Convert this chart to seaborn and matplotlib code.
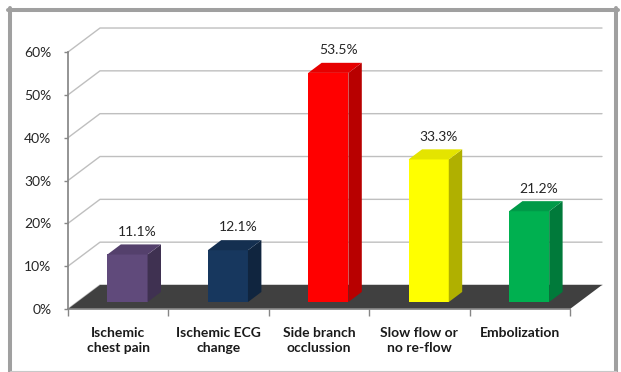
import matplotlib
matplotlib.use("Agg")
import matplotlib.pyplot as plt
import seaborn as sns
import pandas as pd
from matplotlib.patches import Polygon
from matplotlib.lines import Line2D

# ---- data ----
categories = ["Ischemic\nchest pain", "Ischemic ECG\nchange", "Side branch\nocclussion",
              "Slow flow or\nno re-flow", "Embolization"]
values = [11.1, 12.1, 53.5, 33.3, 21.2]
value_labels = ["11.1%", "12.1%", "53.5%", "33.3%", "21.2%"]
yticks = [0, 10, 20, 30, 40, 50, 60]
ytick_labels = ["0%", "10%", "20%", "30%", "40%", "50%", "60%"]
front_colors = ["#604A7B", "#17375E", "#FF0000", "#FFFF00", "#00B050"]
side_colors = ["#3F3151", "#10253F", "#B80000", "#B0B000", "#007A3A"]
top_colors = ["#54406C", "#142F50", "#E60000", "#E4E400", "#009A48"]

# ---- layout (pixels) ----
W, H, DPI = 621, 372, 100
AX_L, AX_R, AX_B, AX_T = 68, 603, 309, 28
PX_CAT = 100.4          # pixels per category
PX_PCT = 4.283          # pixels per percent
DX = 32 / PX_CAT        # depth offset in data units (x)
DY = 24 / PX_PCT        # depth offset in data units (y)
D_FRONT, D_BACK = 0.29, 0.71
BAR_W = 0.4

sns.set_theme(style="white")
plt.rcParams["font.family"] = ["Lato", "DejaVu Sans"]

fig = plt.figure(figsize=(W / DPI, H / DPI), dpi=DPI)
ax = fig.add_axes([AX_L / W, (H - AX_B) / H, (AX_R - AX_L) / W, (AX_B - AX_T) / H])
n = len(categories)

# back wall gridlines + side wall diagonals
for v in yticks:
    ax.plot([-0.5, -0.5 + DX, n - 0.5 + DX], [v, v + DY, v + DY],
            color="#BFBFBF", lw=1, zorder=0, clip_on=False)

# floor
floor = Polygon([(-0.5, 0), (n - 0.5, 0), (n - 0.5 + DX, DY), (-0.5 + DX, DY)],
                closed=True, facecolor="#404040", edgecolor="none", zorder=1, clip_on=False)
ax.add_patch(floor)

df = pd.DataFrame({"cat": categories, "val": values})
sns.barplot(data=df, x="cat", y="val", hue="cat", palette=front_colors, width=BAR_W,
            saturation=1, legend=False, ax=ax, zorder=3)

ax.set_xlim(-0.5, -0.5 + (AX_R - AX_L) / PX_CAT)
ax.set_ylim(0, (AX_B - AX_T) / PX_PCT)

bars = [p for p in ax.patches if p is not floor]
ddx = (D_BACK - D_FRONT) * DX
ddy = (D_BACK - D_FRONT) * DY
for i, p in enumerate(bars):
    p.set_x(p.get_x() + D_FRONT * DX)
    p.set_y(p.get_y() + D_FRONT * DY)
    p.set_edgecolor("none")
    x0 = p.get_x()
    x1 = x0 + p.get_width()
    y0 = p.get_y()
    y1 = y0 + p.get_height()
    side = Polygon([(x1, y0), (x1 + ddx, y0 + ddy), (x1 + ddx, y1 + ddy), (x1, y1)],
                   closed=True, facecolor=side_colors[i], edgecolor="none", zorder=3)
    top = Polygon([(x0, y1), (x1, y1), (x1 + ddx, y1 + ddy), (x0 + ddx, y1 + ddy)],
                  closed=True, facecolor=top_colors[i], edgecolor="none", zorder=3)
    ax.add_patch(side)
    ax.add_patch(top)
    ax.annotate(value_labels[i], xy=(i + 0.6 * DX, values[i] + 0.6 * DY),
                xytext=(0, 11), textcoords="offset points", ha="center", va="center",
                fontsize=10, color="#262626", zorder=5)

# axes styling
for s in ["top", "right"]:
    ax.spines[s].set_visible(False)
ax.spines["left"].set_bounds(0, 60)
ax.spines["left"].set_color("#868686")
ax.spines["bottom"].set_bounds(-0.5, n - 0.5)
ax.spines["bottom"].set_color("#868686")
ax.set_yticks(yticks)
ax.set_yticklabels(ytick_labels)
ax.tick_params(axis="y", left=True, length=3, width=1, color="#868686", pad=9,
               labelsize=10, labelcolor="#262626")
ax.set_xticks(range(n))
ax.set_xticklabels(categories, fontweight="bold", fontsize=10, linespacing=1.3)
ax.set_xticks([i - 0.5 for i in range(n + 1)], minor=True)
ax.tick_params(axis="x", which="major", bottom=False, length=0, pad=13, labelcolor="#1a1a1a")
ax.tick_params(axis="x", which="minor", bottom=True, length=5, width=1, color="#868686")
ax.set_xlabel("")
ax.set_ylabel("")

# frame
def fline(x0, y0, x1, y1, lw, color):
    fig.add_artist(Line2D([x0 / W, x1 / W], [1 - y0 / H, 1 - y1 / H],
                          transform=fig.transFigure, lw=lw, color=color))

fline(10, 8, 10, 372, 2.9, "#A0A0A0")
fline(8, 10, 618, 10, 2.9, "#A0A0A0")
fline(616, 8, 616, 372, 2.9, "#A0A0A0")
fline(10, 370.5, 616, 370.5, 0.8, "#C8C8C8")

fig.savefig("out.png", dpi=DPI)
